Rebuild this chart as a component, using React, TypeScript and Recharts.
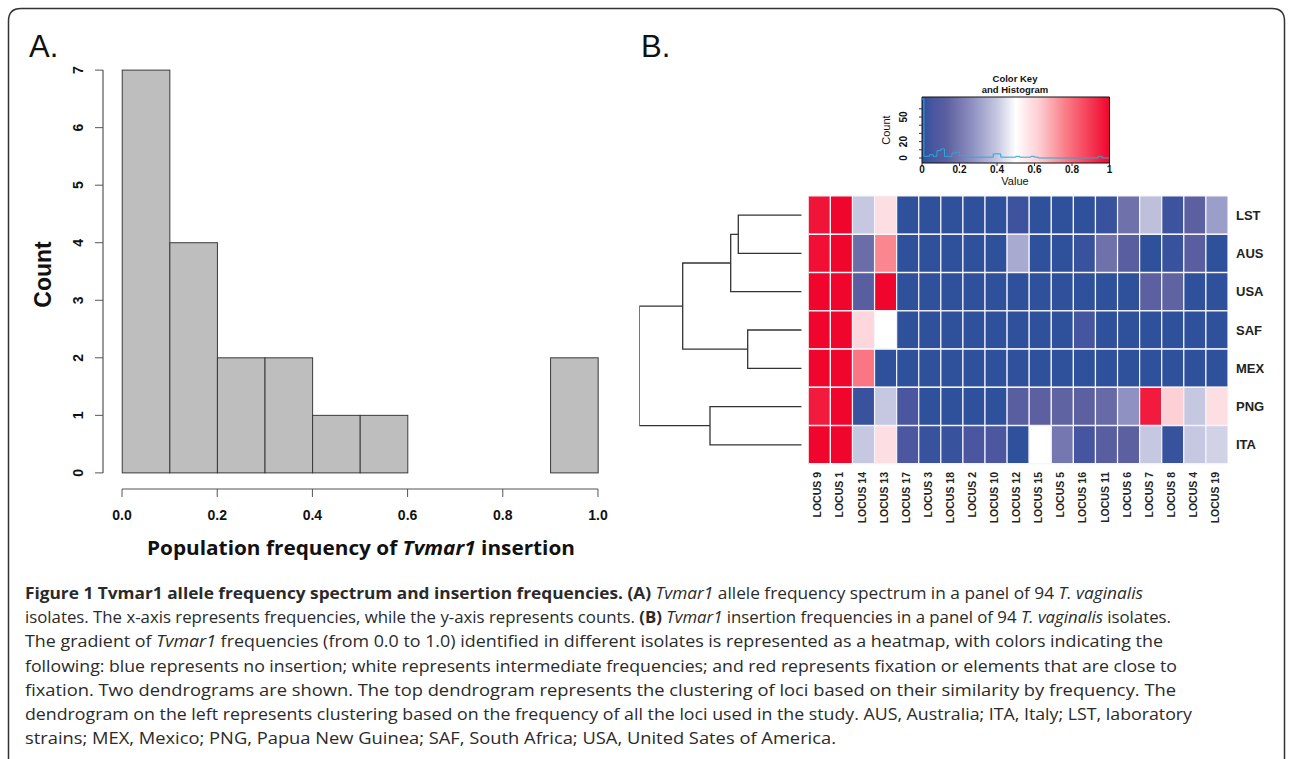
import React from "react"
import {
  ComposedChart,
  BarChart,
  LineChart,
  Bar,
  Line,
  Cell,
  XAxis,
  YAxis,
  ReferenceLine,
  ReferenceArea,
} from "recharts"

// Panel A: histogram of Tvmar1 insertion frequency
const binCenters = [0.05, 0.15, 0.25, 0.35, 0.45, 0.55, 0.65, 0.75, 0.85, 0.95]
const binCounts = [7, 4, 2, 2, 1, 1, 0, 0, 0, 2]
const histXTicks = [0, 0.2, 0.4, 0.6, 0.8, 1]
const histYTicks = [0, 1, 2, 3, 4, 5, 6, 7]

// Panel B: heatmap
const loci = [
  "LOCUS 9", "LOCUS 1", "LOCUS 14", "LOCUS 13", "LOCUS 17", "LOCUS 3", "LOCUS 18",
  "LOCUS 2", "LOCUS 10", "LOCUS 12", "LOCUS 15", "LOCUS 5", "LOCUS 16", "LOCUS 11",
  "LOCUS 6", "LOCUS 7", "LOCUS 8", "LOCUS 4", "LOCUS 19",
]
const isolates = ["LST", "AUS", "USA", "SAF", "MEX", "PNG", "ITA"]

const lstFreq = [0.97, 1.0, 0.4, 0.58, 0, 0, 0, 0, 0, 0.03, 0, 0, 0, 0.02, 0.18, 0.38, 0.03, 0.13, 0.3]
const ausFreq = [0.98, 1.0, 0.17, 0.75, 0, 0, 0, 0, 0, 0.33, 0, 0, 0.02, 0.18, 0.12, 0, 0.02, 0.12, 0]
const usaFreq = [1.0, 1.0, 0.12, 1.0, 0, 0, 0, 0, 0, 0, 0, 0, 0, 0, 0, 0.13, 0.14, 0, 0]
const safFreq = [1.0, 1.0, 0.6, 0.5, 0, 0, 0, 0, 0, 0, 0, 0, 0.05, 0, 0, 0, 0, 0, 0]
const mexFreq = [1.0, 1.0, 0.78, 0, 0, 0, 0, 0, 0, 0, 0, 0, 0, 0, 0, 0, 0, 0, 0]
const pngFreq = [0.96, 1.0, 0.02, 0.4, 0.06, 0, 0, 0, 0, 0.12, 0.13, 0.14, 0.13, 0.16, 0.27, 0.96, 0.62, 0.4, 0.58]
const itaFreq = [1.0, 1.0, 0.4, 0.58, 0.07, 0.02, 0.02, 0.06, 0.07, 0, 0.5, 0.2, 0.05, 0.12, 0.13, 0.4, 0.02, 0.4, 0.42]
const heatValues = [lstFreq, ausFreq, usaFreq, safFreq, mexFreq, pngFreq, itaFreq]

// left dendrogram (merge heights)
const dendroMerges = [
  { a: "LST", b: "AUS", h: 0.634 },
  { a: "m0", b: "USA", h: 0.71 },
  { a: "SAF", b: "MEX", h: 0.54 },
  { a: "m1", b: "m2", h: 1.19 },
  { a: "PNG", b: "ITA", h: 0.917 },
  { a: "m3", b: "m4", h: 1.624 },
]

// colour key histogram line
const keyHistValues = [0, 0.01, 0.04, 0.06, 0.08, 0.1, 0.12, 0.16, 0.18, 0.2, 0.22, 0.3, 0.38, 0.4, 0.42, 0.5, 0.52, 0.56, 0.58, 0.6, 0.62, 0.94, 0.96, 1]
const keyHistCounts = [72, 2, 4, 2, 9, 11, 2, 6, 7, 3, 1, 1, 5, 5, 1, 2, 1, 1, 2, 1, 0, 2, 0, 0]
const keyXTicks = [0, 0.2, 0.4, 0.6, 0.8, 1]
const keyYTicks = [0, 10, 20, 30, 40, 50, 60]
const keyYLabels = [0, 20, 50]

const colorStops: [number, number[]][] = [
  [0, [47, 80, 155]],
  [0.06, [74, 86, 160]],
  [0.13, [92, 95, 160]],
  [0.18, [110, 113, 170]],
  [0.27, [143, 145, 195]],
  [0.33, [168, 170, 208]],
  [0.4, [198, 199, 224]],
  [0.5, [255, 255, 255]],
  [0.58, [253, 222, 227]],
  [0.62, [253, 208, 213]],
  [0.76, [250, 128, 138]],
  [1, [240, 5, 45]],
]

function heatColor(v: number) {
  for (let i = 1; i < colorStops.length; i++) {
    const [p0, c0] = colorStops[i - 1]
    const [p1, c1] = colorStops[i]
    if (v <= p1) {
      const t = (v - p0) / (p1 - p0)
      const c = c0.map((x, k) => Math.round(x + (c1[k] - x) * t))
      return `rgb(${c[0]},${c[1]},${c[2]})`
    }
  }
  return "rgb(240,5,45)"
}

const captionLines = [
  {
    w: 1118,
    parts: [
      { t: "Figure 1 Tvmar1 allele frequency spectrum and insertion frequencies. (A) ", b: true },
      { t: "Tvmar1", i: true },
      { t: " allele frequency spectrum in a panel of 94 " },
      { t: "T. vaginalis", i: true },
    ],
  },
  {
    w: 1146,
    parts: [
      { t: "isolates. The x-axis represents frequencies, while the y-axis represents counts. " },
      { t: "(B) ", b: true },
      { t: "Tvmar1", i: true },
      { t: " insertion frequencies in a panel of 94 " },
      { t: "T. vaginalis", i: true },
      { t: " isolates." },
    ],
  },
  {
    w: 1138,
    parts: [
      { t: "The gradient of " },
      { t: "Tvmar1", i: true },
      { t: " frequencies (from 0.0 to 1.0) identified in different isolates is represented as a heatmap, with colors indicating the" },
    ],
  },
  { w: 1152, parts: [{ t: "following: blue represents no insertion; white represents intermediate frequencies; and red represents fixation or elements that are close to" }] },
  { w: 1151, parts: [{ t: "fixation. Two dendrograms are shown. The top dendrogram represents the clustering of loci based on their similarity by frequency. The" }] },
  { w: 1167, parts: [{ t: "dendrogram on the left represents clustering based on the frequency of all the loci used in the study. AUS, Australia; ITA, Italy; LST, laboratory" }] },
  { w: 811, parts: [{ t: "strains; MEX, Mexico; PNG, Papua New Guinea; SAF, South Africa; USA, United Sates of America." }] },
]

const arial = "'Liberation Sans', Arial, Helvetica, sans-serif"

// histogram plot: 514px wide for a domain of 1.08, bins are 0.1 wide
const HIST_BIN_PX = (514 / 1.08) * 0.1

function buildDendroSegments() {
  const pos: Record<string, { y: number; h: number }> = {}
  isolates.forEach((iso, i) => (pos[iso] = { y: i + 0.5, h: 0 }))
  return dendroMerges.map((m, i) => {
    const a = pos[m.a]
    const b = pos[m.b]
    pos["m" + i] = { y: (a.y + b.y) / 2, h: m.h }
    return [
      { h: a.h, y: a.y },
      { h: m.h, y: a.y },
      { h: m.h, y: b.y },
      { h: b.h, y: b.y },
    ]
  })
}

export default function App() {
  const histData = binCenters.map((x, i) => ({ x, count: binCounts[i] }))
  const heatRows = isolates.map((iso) => {
    const row: Record<string, any> = { isolate: iso }
    loci.forEach((_, c) => (row["c" + c] = 1))
    return row
  })
  const colTicks = loci.map((_, i) => i + 0.5)
  const dendroSegments = buildDendroSegments()
  const keyHist = keyHistValues.map((v, i) => ({ v, n: keyHistCounts[i] }))

  // full-width histogram bar centred on its bin
  const HistBar = (props: any) => {
    const { x, y, width, height } = props
    if (!height || height <= 0) return <g />
    const cx = x + width / 2
    return (
      <rect x={cx - HIST_BIN_PX / 2} y={y} width={HIST_BIN_PX} height={height}
        fill="#bebebe" stroke="#3a3a3a" strokeWidth={1} />
    )
  }

  // histogram chart sits at the page origin, so labels go at page x
  const HistYTick = (props: any) => {
    const { y, payload } = props
    const bx = 83
    return (
      <text x={bx} y={y} transform={`rotate(-90 ${bx} ${y})`} textAnchor="middle"
        fontSize={14} fontWeight={700} fontFamily={arial} fill="#111">
        {payload.value}
      </text>
    )
  }

  const LocusTick = (props: any) => {
    const { x, y, payload } = props
    return (
      <text x={x} y={y} dy={2} transform={`rotate(-90 ${x} ${y})`} textAnchor="end"
        fontSize={10.5} fontWeight={700} fontFamily={arial} fill="#222">
        {loci[Math.floor(payload.value)]}
      </text>
    )
  }

  const KeyYTick = (props: any) => {
    const { y, payload } = props
    if (!keyYLabels.includes(payload.value)) return <g />
    const bx = 27
    return (
      <text x={bx} y={y} transform={`rotate(-90 ${bx} ${y})`} textAnchor="middle"
        fontSize={10} fontWeight={700} fontFamily={arial} fill="#111">
        {payload.value}
      </text>
    )
  }

  return (
    <div style={{ position: "absolute", left: 0, top: 0, width: 1293, height: 759, overflow: "hidden", background: "#fff" }}>
      {/* Panel A */}
      <div style={{ position: "absolute", left: 0, top: 0 }}>
        <ComposedChart width={640} height={580} data={histData}
          margin={{ top: 54, right: 23, bottom: 51, left: 43 }} barCategoryGap="0%" barGap={0}>
          <XAxis type="number" dataKey="x" domain={[-0.04, 1.04]} ticks={histXTicks} interval={0}
            allowDataOverflow axisLine={false} tickSize={8} tickMargin={13} height={40}
            tickLine={{ stroke: "#555" }} tickFormatter={(v: number) => v.toFixed(1)}
            tick={{ fontSize: 14, fontWeight: 700, fontFamily: arial, fill: "#111" }} />
          <YAxis type="number" domain={[-0.28, 7.28]} ticks={histYTicks} interval={0} allowDataOverflow
            width={60} axisLine={false} tickSize={8} tickLine={{ stroke: "#555" }} tick={<HistYTick />} />
          <ReferenceLine segment={[{ x: 0, y: -0.28 }, { x: 1, y: -0.28 }]} stroke="#555" strokeWidth={1.2} ifOverflow="visible" />
          <ReferenceLine segment={[{ x: -0.04, y: 0 }, { x: -0.04, y: 7 }]} stroke="#555" strokeWidth={1.2} ifOverflow="visible" />
          <Bar dataKey="count" shape={<HistBar />} isAnimationActive={false} />
        </ComposedChart>
      </div>

      {/* Panel B: dendrogram */}
      <div style={{ position: "absolute", left: 630, top: 186 }}>
        <LineChart width={181.7} height={288} margin={{ top: 10, right: 10, bottom: 10, left: 9.3 }}>
          <XAxis type="number" dataKey="h" domain={[0, 1.624]} reversed hide allowDataOverflow />
          <YAxis type="number" dataKey="y" domain={[0, 7]} reversed hide allowDataOverflow />
          {dendroSegments.map((seg, i) => (
            <Line key={i} data={seg} dataKey="y" type="linear" stroke="#333" strokeWidth={1.3}
              dot={false} activeDot={false} isAnimationActive={false} />
          ))}
        </LineChart>
      </div>

      {/* Panel B: heatmap */}
      <div style={{ position: "absolute", left: 790, top: 180 }}>
        <BarChart layout="vertical" width={520} height={350} data={heatRows}
          margin={{ top: 16, right: 22, bottom: 6, left: 18.3 }} barCategoryGap="0%" barGap={0}>
          <XAxis type="number" domain={[0, 19]} ticks={colTicks} interval={0} allowDataOverflow
            height={60} axisLine={false} tickLine={false} tick={<LocusTick />} />
          <YAxis type="category" dataKey="isolate" orientation="right" width={60} axisLine={false}
            tickLine={false} tick={{ fontSize: 13, fontWeight: 700, fontFamily: arial, fill: "#222", textAnchor: "start" }} />
          {loci.map((l, c) => (
            <Bar key={l} dataKey={"c" + c} stackId="heat" stroke="#f4f4fa" strokeWidth={1.2} isAnimationActive={false}>
              {isolates.map((iso, r) => (
                <Cell key={iso} fill={heatColor(heatValues[r][c])} />
              ))}
            </Bar>
          ))}
        </BarChart>
      </div>

      {/* Panel B: colour key */}
      <div style={{ position: "absolute", left: 880, top: 87 }}>
        <ComposedChart width={250} height={110} margin={{ top: 10, right: 20.5, bottom: 14, left: 12 }}>
          <defs>
            <linearGradient id="keyGrad" x1="0" y1="0" x2="1" y2="0">
              {colorStops.map(([p, c]) => (
                <stop key={p} offset={p} stopColor={`rgb(${c[0]},${c[1]},${c[2]})`} />
              ))}
            </linearGradient>
          </defs>
          <XAxis type="number" dataKey="v" domain={[0, 1]} ticks={keyXTicks} interval={0} allowDataOverflow
            height={20} axisLine={false} tickSize={3} tickMargin={0} tickLine={{ stroke: "#333" }}
            tickFormatter={(v: number) => (v === 0 || v === 1 ? String(v) : v.toFixed(1))}
            tick={{ fontSize: 10, fontWeight: 700, fontFamily: arial, fill: "#111" }} />
          <YAxis type="number" domain={[-6.1, 74.4]} ticks={keyYTicks} interval={0} allowDataOverflow
            width={30} axisLine={false} tickSize={3} tickLine={{ stroke: "#333" }} tick={<KeyYTick />} />
          <ReferenceArea x1={0} x2={1} y1={-6.1} y2={74.4} fill="url(#keyGrad)" fillOpacity={1}
            stroke="#111" strokeWidth={1} ifOverflow="visible" />
          <Line data={keyHist} dataKey="n" type="stepAfter" stroke="#2aa9d6" strokeWidth={1}
            dot={false} activeDot={false} isAnimationActive={false} />
        </ComposedChart>
      </div>

      {/* titles, labels and caption */}
      <svg width={1293} height={759} style={{ position: "absolute", left: 0, top: 0, pointerEvents: "none" }}>
        <path d="M8.5 780 L8.5 21 Q8.5 8.5 21 8.5 L1272 8.5 Q1284.5 8.5 1284.5 21 L1284.5 780"
          fill="none" stroke="#333" strokeWidth={1.5} />
        <text x={29} y={57} fontSize={31} fontFamily={arial} fill="#111">A.</text>
        <text x={641} y={57} fontSize={31} fontFamily={arial} fill="#111">B.</text>

        <text x={51} y={274.5} transform="rotate(-90 51 274.5)" textAnchor="middle"
          fontSize={23} fontWeight={700} fontFamily={arial} fill="#111">Count</text>
        <text x={147} y={555} fontSize={19} fontWeight={700} fontFamily="'Open Sans', sans-serif" fill="#111"
          textLength={428} lengthAdjust="spacingAndGlyphs">
          Population frequency of <tspan fontStyle="italic">Tvmar1</tspan> insertion
        </text>

        <text x={1015} y={82} textAnchor="middle" fontSize={9.5} fontWeight={700} fontFamily={arial} fill="#111">Color Key</text>
        <text x={1015} y={93} textAnchor="middle" fontSize={9.5} fontWeight={700} fontFamily={arial} fill="#111">and Histogram</text>
        <text x={1015} y={185} textAnchor="middle" fontSize={11} fontFamily={arial} fill="#111">Value</text>
        <text x={890} y={130} transform="rotate(-90 890 130)" textAnchor="middle" fontSize={11} fontFamily={arial} fill="#111">Count</text>

        {captionLines.map((line, li) => (
          <text key={li} x={25} y={599 + li * 24.2} fontSize={16.5} fontFamily="'Open Sans', sans-serif" fill="#2a2a2a"
            textLength={line.w} lengthAdjust="spacingAndGlyphs">
            {line.parts.map((p: any, pi) => (
              <tspan key={pi} fontWeight={p.b ? 700 : 400} fontStyle={p.i ? "italic" : "normal"}>{p.t}</tspan>
            ))}
          </text>
        ))}
      </svg>
    </div>
  )
}
